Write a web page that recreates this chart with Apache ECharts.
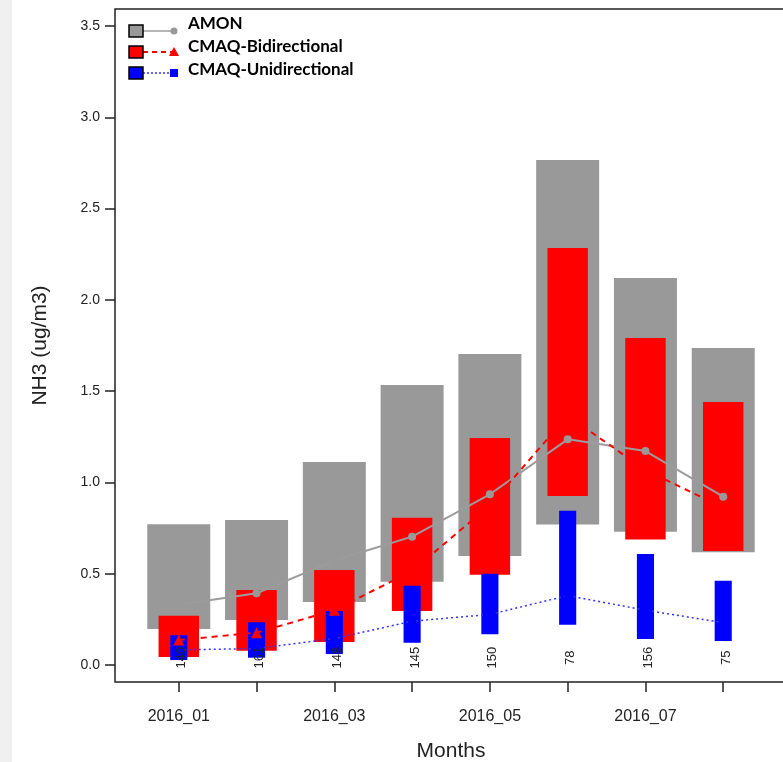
<!DOCTYPE html>
<html lang="en">
<head>
    <meta charset="UTF-8">
    <title>NH3 monthly</title>
    <style>
        html, body { margin: 0; padding: 0; background: #fff; overflow: hidden; }
        /* plot box runs a few px past the right edge, like the original */
        #chart { width: 800px; height: 762px; }
    </style>
    <script src="https://cdn.jsdelivr.net/npm/echarts@6/dist/echarts.min.js"></script>
</head>
<body>
    <div id="chart"></div>
    <script>
        // months and per-month station counts
        const months = ['2016_01', '2016_02', '2016_03', '2016_04', '2016_05', '2016_06', '2016_07', '2016_08'];
        const counts = ['140', '161', '148', '145', '150', '78', '156', '75'];

        // box ranges (low / high) for each data set
        const amonLow = [0.197, 0.246, 0.345, 0.456, 0.597, 0.769, 0.730, 0.617];
        const amonHigh = [0.771, 0.794, 1.112, 1.534, 1.703, 2.766, 2.120, 1.736];
        const bidiLow = [0.044, 0.078, 0.126, 0.296, 0.495, 0.926, 0.688, 0.624];
        const bidiHigh = [0.270, 0.411, 0.520, 0.807, 1.243, 2.284, 1.791, 1.440];
        const uniLow = [0.027, 0.040, 0.060, 0.122, 0.168, 0.221, 0.142, 0.131];
        const uniHigh = [0.163, 0.234, 0.296, 0.434, 0.500, 0.845, 0.608, 0.462];

        // monthly means (lines)
        const amonMean = [0.330, 0.393, 0.572, 0.703, 0.935, 1.236, 1.172, 0.922];
        const bidiMean = [0.137, 0.177, 0.300, 0.515, 0.875, 1.365, 1.068, 0.862];
        const uniMean = [0.083, 0.090, 0.145, 0.240, 0.277, 0.380, 0.300, 0.232];

        const yTicks = [0, 0.5, 1, 1.5, 2, 2.5, 3, 3.5];
        const xTicks = [1, 2, 3, 4, 5, 6, 7, 8];
        const xLabelTicks = [1, 3, 5, 7];

        const font = 'Liberation Sans, Arial, sans-serif';

        function boxSeries(low, high, width, color) {
            return {
                type: 'custom',
                z: 1,
                encode: { x: 0, y: [1, 2] },
                data: low.map((v, i) => [i + 1, v, high[i]]),
                renderItem: function (params, api) {
                    const x = api.value(0);
                    const top = api.coord([x, api.value(2)]);
                    const bot = api.coord([x, api.value(1)]);
                    const w = api.size([width, 0])[0];
                    return {
                        type: 'rect',
                        shape: { x: top[0] - w / 2, y: top[1], width: w, height: bot[1] - top[1] },
                        style: { fill: color }
                    };
                },
                silent: true
            };
        }

        function toXY(arr) {
            return arr.map((v, i) => [i + 1, v]);
        }

        const chart = echarts.init(document.getElementById('chart'));

        const option = {
            animation: false,
            backgroundColor: '#fff',
            grid: {
                left: 115, top: 9, right: 13, bottom: 80,
                outerBoundsMode: 'none',
                show: true, borderColor: '#222', borderWidth: 1.5, containLabel: false
            },
            xAxis: {
                type: 'value',
                min: 0.18,
                max: 8.82,
                name: 'Months',
                nameLocation: 'middle',
                nameGap: 59,
                nameTextStyle: { fontFamily: font, fontSize: 21, color: '#222' },
                axisLine: { show: false, onZero: false },
                splitLine: { show: false },
                axisTick: {
                    show: true, length: 10, customValues: xTicks,
                    lineStyle: { color: '#222', width: 1.5 }
                },
                axisLabel: {
                    customValues: xLabelTicks,
                    formatter: v => months[Math.round(v) - 1],
                    margin: 27,
                    fontFamily: font, fontSize: 16, color: '#222'
                }
            },
            yAxis: {
                type: 'value',
                min: -0.0931,
                max: 3.593,
                name: 'NH3 (ug/m3)',
                nameLocation: 'middle',
                nameGap: 64,
                nameTextStyle: { fontFamily: font, fontSize: 21, color: '#222' },
                axisLine: { show: false, onZero: false },
                splitLine: { show: false },
                axisTick: {
                    show: true, length: 10, customValues: yTicks,
                    lineStyle: { color: '#222', width: 1.5 }
                },
                axisLabel: {
                    customValues: yTicks,
                    formatter: v => v.toFixed(1),
                    margin: 15,
                    fontFamily: font, fontSize: 14, color: '#222'
                }
            },
            series: [
                boxSeries(amonLow, amonHigh, 0.81, '#999999'),
                boxSeries(bidiLow, bidiHigh, 0.52, '#ff0000'),
                boxSeries(uniLow, uniHigh, 0.22, '#0000ff'),
                {
                    type: 'line', z: 3, data: toXY(amonMean),
                    symbol: 'circle', symbolSize: 8,
                    itemStyle: { color: '#999999' },
                    lineStyle: { color: '#9c9c9c', width: 2 }
                },
                {
                    type: 'line', z: 3, data: toXY(bidiMean),
                    symbol: 'triangle', symbolSize: 11,
                    itemStyle: { color: '#ff0000' },
                    lineStyle: { color: '#ff0000', width: 2, type: [6, 5] }
                },
                {
                    type: 'line', z: 3, data: toXY(uniMean),
                    symbol: 'rect', symbolSize: 7,
                    itemStyle: { color: '#0000ff' },
                    lineStyle: { color: '#3333ff', width: 1.5, type: [2, 3] }
                },
                {
                    // station counts written under each month
                    type: 'custom', z: 4,
                    encode: { x: 0, y: 1 },
                    data: counts.map((c, i) => [i + 1, 0.04, c]),
                    renderItem: function (params, api) {
                        const p = api.coord([api.value(0), api.value(1)]);
                        return {
                            type: 'text',
                            x: p[0] + 3, y: p[1],
                            rotation: Math.PI / 2,
                            style: {
                                text: counts[params.dataIndex],
                                font: '13px Liberation Sans, Arial, sans-serif',
                                fill: '#222', align: 'center', verticalAlign: 'middle'
                            }
                        };
                    },
                    silent: true
                }
            ],
            graphic: [
                { type: 'rect', left: 0, top: 0, shape: { width: 12, height: 762 }, style: { fill: '#f0f0f0' }, silent: true },
                // legend
                { type: 'line', shape: { x1: 143, y1: 31, x2: 174, y2: 31 }, style: { stroke: '#9c9c9c', lineWidth: 1.5 } },
                { type: 'circle', shape: { cx: 174, cy: 31, r: 3.5 }, style: { fill: '#999999' } },
                { type: 'rect', shape: { x: 129, y: 25, width: 14, height: 12 }, style: { fill: '#999999', stroke: '#000', lineWidth: 1.5 } },
                { type: 'text', x: 188, y: 24, style: { text: 'AMON', fill: '#000', font: 'bold 17px Lato', verticalAlign: 'middle' } },

                { type: 'line', shape: { x1: 143, y1: 52, x2: 174, y2: 52 }, style: { stroke: '#ff0000', lineWidth: 2, lineDash: [5, 4] } },
                { type: 'polygon', shape: { points: [[174, 47], [179, 56], [169, 56]] }, style: { fill: '#ff0000' } },
                { type: 'rect', shape: { x: 129, y: 46, width: 14, height: 12 }, style: { fill: '#ff0000', stroke: '#000', lineWidth: 1.5 } },
                { type: 'text', x: 188, y: 47, style: { text: 'CMAQ-Bidirectional', fill: '#000', font: 'bold 17px Lato', verticalAlign: 'middle' } },

                { type: 'line', shape: { x1: 143, y1: 73, x2: 174, y2: 73 }, style: { stroke: '#3333ff', lineWidth: 1.5, lineDash: [2, 2] } },
                { type: 'rect', shape: { x: 170, y: 69, width: 8, height: 8 }, style: { fill: '#0000ff' } },
                { type: 'rect', shape: { x: 129, y: 67, width: 14, height: 12 }, style: { fill: '#0000ff', stroke: '#000', lineWidth: 1.5 } },
                { type: 'text', x: 188, y: 70, style: { text: 'CMAQ-Unidirectional', fill: '#000', font: 'bold 17px Lato', verticalAlign: 'middle' } }
            ]
        };

        chart.setOption(option);
    </script>
</body>
</html>
